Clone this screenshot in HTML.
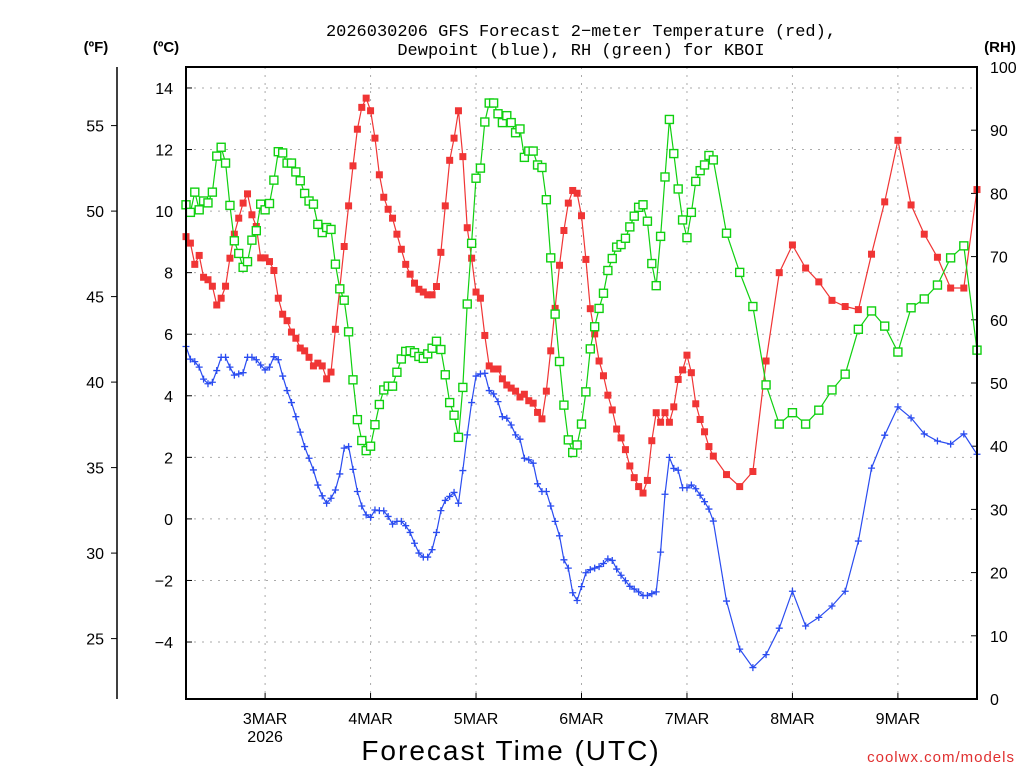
<!DOCTYPE html>
<html><head><meta charset="utf-8"><style>
html,body{margin:0;padding:0;background:#fff;}
svg{display:block;font-family:"Liberation Sans",sans-serif;}
</style></head><body>
<svg id="chart" width="1024" height="768" viewBox="0 0 1024 768" xmlns="http://www.w3.org/2000/svg">
<text x="581" y="36" font-size="17" font-family="Liberation Mono, monospace" text-anchor="middle">2026030206 GFS Forecast 2−meter Temperature (red),</text>
<text x="581" y="55" font-size="17" font-family="Liberation Mono, monospace" text-anchor="middle">Dewpoint (blue), RH (green) for KBOI</text>
<text x="96" y="52" font-size="15" font-weight="bold" text-anchor="middle">(ºF)</text>
<text x="166" y="52" font-size="15" font-weight="bold" text-anchor="middle">(ºC)</text>
<text x="1000" y="52" font-size="15" font-weight="bold" text-anchor="middle">(RH)</text>
<text x="511" y="760" font-size="28" text-anchor="middle" letter-spacing="2">Forecast Time (UTC)</text>
<text x="1015" y="762" font-size="15" fill="#e03030" text-anchor="end" letter-spacing="1">coolwx.com/models</text>
<g id="grid"></g><g id="axes"></g><g id="series"></g>
<rect x="186" y="67" width="791" height="632" fill="none" stroke="#000" stroke-width="2"/>
</svg>
<script>
const redHourly=[9.17,8.96,8.27,8.56,7.85,7.77,7.56,6.95,7.17,7.56,8.47,9.25,9.77,10.26,10.56,9.88,9.50,8.48,8.48,8.36,8.07,7.17,6.65,6.44,6.07,5.87,5.55,5.46,5.25,4.97,5.06,4.97,4.55,4.77,6.16,7.5,8.85,10.17,11.47,12.66,13.37,13.67,13.26,12.37,11.18,10.45,10.06,9.77,9.25,8.76,8.27,7.95,7.66,7.46,7.37,7.28,7.28,7.55,8.66,10.17,11.65,12.37,13.26,11.77,9.46,8.47,7.37,7.17,5.96,4.97,4.87,4.87,4.55,4.35,4.25,4.15,3.96,4.05,3.84,3.76,3.46,3.25,4.15,5.46,6.84,8.24,9.37,10.26,10.67,10.58,9.85,8.43,6.83,6.01,5.13,4.65,4.02,3.54,2.92,2.63,2.25,1.72,1.34,1.05,0.84,1.25,2.54,3.45,3.14,3.45,3.14,3.64,4.53,4.84,5.32,4.75,3.74,3.23,2.83,2.35,2.04];
const red3h=[1.44,1.05,1.54,5.13,8.0,8.9,8.15,7.7,7.1,6.9,6.8,8.6,10.3,12.3,10.2,9.25,8.5,7.5,7.5,10.7];
const blueHourly=[5.60,5.19,5.11,4.93,4.54,4.39,4.44,4.82,5.25,5.25,4.93,4.67,4.71,4.75,5.25,5.25,5.17,5.00,4.84,4.93,5.27,5.17,4.64,4.17,3.78,3.32,2.82,2.35,1.97,1.59,1.10,0.75,0.51,0.67,0.94,1.46,2.30,2.35,1.61,0.89,0.42,0.13,0.05,0.29,0.27,0.26,0.08,-0.17,-0.08,-0.08,-0.22,-0.44,-0.79,-1.11,-1.24,-1.24,-1.00,-0.44,0.27,0.60,0.73,0.86,0.51,1.57,2.73,3.78,4.64,4.71,4.73,4.17,4.06,3.81,3.32,3.27,3.05,2.73,2.59,1.97,1.92,1.81,1.14,0.89,0.89,0.42,-0.08,-0.55,-1.33,-1.6,-2.4,-2.65,-2.2,-1.75,-1.65,-1.6,-1.55,-1.45,-1.3,-1.35,-1.63,-1.83,-2.01,-2.19,-2.28,-2.37,-2.49,-2.49,-2.43,-2.37,-1.08,0.80,2.00,1.64,1.58,1.01,1.01,1.10,0.98,0.77,0.56,0.32,-0.07];
const blue3h=[-2.67,-4.23,-4.83,-4.41,-3.55,-2.35,-3.48,-3.2,-2.83,-2.35,-0.72,1.65,2.72,3.64,3.28,2.76,2.53,2.43,2.76,2.1];
const rhHourly=[78.2,77.0,80.2,77.4,78.8,78.5,80.2,85.9,87.3,84.8,78.1,72.5,70.5,68.3,69.2,72.6,74.1,78.3,77.4,78.4,82.1,86.6,86.4,84.8,84.8,83.4,82.0,80.0,78.8,78.3,75.1,73.8,74.6,74.3,68.8,64.9,63.1,58.1,50.5,44.2,40.9,39.3,40.0,43.4,46.6,48.9,49.5,49.5,51.7,53.8,55.0,55.1,54.8,54.2,53.9,54.6,55.5,56.6,55.3,51.3,46.9,44.9,41.4,49.3,62.5,72.1,82.4,84.0,91.3,94.3,94.3,92.6,91.2,92.3,91.2,89.6,90.2,85.7,86.7,86.7,84.5,84.1,79.0,69.8,60.9,53.4,46.5,41.0,39.0,40.2,43.5,48.6,55.4,58.9,61.8,64.2,67.8,69.7,71.5,71.9,72.9,74.7,76.4,77.8,78.2,75.6,68.9,65.4,73.2,82.6,91.7,86.3,80.7,75.8,73.0,77.0,81.9,83.6,84.5,86.0,85.3];
const rh3h=[73.7,67.5,62.1,49.7,43.5,45.3,43.5,45.7,48.9,51.4,58.5,61.4,59.0,54.9,61.9,63.3,65.5,69.8,71.7,55.2];
const dayLabels=["3MAR","4MAR","5MAR","6MAR","7MAR","8MAR","9MAR"];
const celsiusTicks=[-4,-2,0,2,4,6,8,10,12,14];
const fahrenheitTicks=[25,30,35,40,45,50,55];
const rhTicks=[0,10,20,30,40,50,60,70,80,90,100];

const NS="http://www.w3.org/2000/svg";
const X0=186,X1=977,Y0=67,Y1=699;
const xs=h=>X0+(h/180)*(X1-X0);
const yC=c=>518.9-c*30.78;
const yF=f=>yC((f-32)*5/9);
const yRH=r=>Y1-r*(Y1-Y0)/100;
function mk(tag,attrs,parent){const e=document.createElementNS(NS,tag);for(const k in attrs)e.setAttribute(k,attrs[k]);parent.appendChild(e);return e;}
const grid=document.getElementById('grid'),axes=document.getElementById('axes'),ser=document.getElementById('series');
const hours=[];for(let h=0;h<=120;h++)hours.push(h);for(let h=123;h<=180;h+=3)hours.push(h);

celsiusTicks.forEach(c=>{
  const y=yC(c);
  const g=mk('line',{x1:X0,x2:X1,y1:y,y2:y,stroke:'#aaa','stroke-dasharray':'2 6'},grid);
  
  
  mk('line',{x1:X0,x2:X0+6,y1:y,y2:y,stroke:'#000'},axes);
  const t=mk('text',{x:173,y:y+6,'font-size':16,'text-anchor':'end'},axes);t.textContent=(c<0?'−'+(-c):c);
  
  
});
mk('line',{x1:117,x2:117,y1:67,y2:699,stroke:'#000','stroke-width':1.5},axes);
fahrenheitTicks.forEach(f=>{
  const y=yF(f);
  mk('line',{x1:117,x2:111,y1:y,y2:y,stroke:'#000'},axes);
  const t=mk('text',{x:104,y:y+6,'font-size':16,'text-anchor':'end'},axes);t.textContent=f;
  
  
});
rhTicks.forEach(r=>{
  const y=yRH(r);
  mk('line',{x1:X1,x2:X1-6,y1:y,y2:y,stroke:'#000'},axes);
  const t=mk('text',{x:990,y:y+6,'font-size':16},axes);t.textContent=r;
  
  
});
dayLabels.forEach((d,i)=>{
  const x=xs(18+24*i);
  const g=mk('line',{x1:x,x2:x,y1:Y0,y2:Y1,stroke:'#aaa','stroke-dasharray':'2 6'},grid);
  
  
  mk('line',{x1:x,x2:x,y1:Y1,y2:Y1-6,stroke:'#000'},axes);
  const t=mk('text',{x:x,y:724,'font-size':16,'text-anchor':'middle'},axes);t.textContent=d;
  
  
});
{const t=mk('text',{x:xs(18),y:742,'font-size':16,'text-anchor':'middle'},axes);t.textContent='2026';

}

function series(vals,yfn,color,kind,name){
  const pts=vals.map((v,i)=>[xs(hours[i]),yfn(v)]);
  const g=mk('g',{},ser);
  
  
  mk('polyline',{points:pts.map(p=>p[0].toFixed(1)+','+p[1].toFixed(1)).join(' '),fill:'none',stroke:color,'stroke-width':1.2},g);
  pts.forEach(p=>{
    let m;
    if(kind==='fill'){m=mk('rect',{x:p[0]-3.5,y:p[1]-3.5,width:7,height:7,fill:color},g);}
    else if(kind==='open'){m=mk('rect',{x:p[0]-4,y:p[1]-4,width:8,height:8,fill:'#fff',stroke:color,'stroke-width':1.4},g);}
    else{m=mk('path',{d:`M${p[0]-3.5},${p[1]}h7M${p[0]},${p[1]-3.5}v7`,stroke:color,'stroke-width':1.3,fill:'none'},g);}
    
    
  });
}
series(redHourly.concat(red3h),yC,'#f03535','fill','temperature');
series(blueHourly.concat(blue3h),yC,'#2a4cf0','plus','dewpoint');
series(rhHourly.concat(rh3h),yRH,'#10d010','open','relative-humidity');
</script>
</body></html>
